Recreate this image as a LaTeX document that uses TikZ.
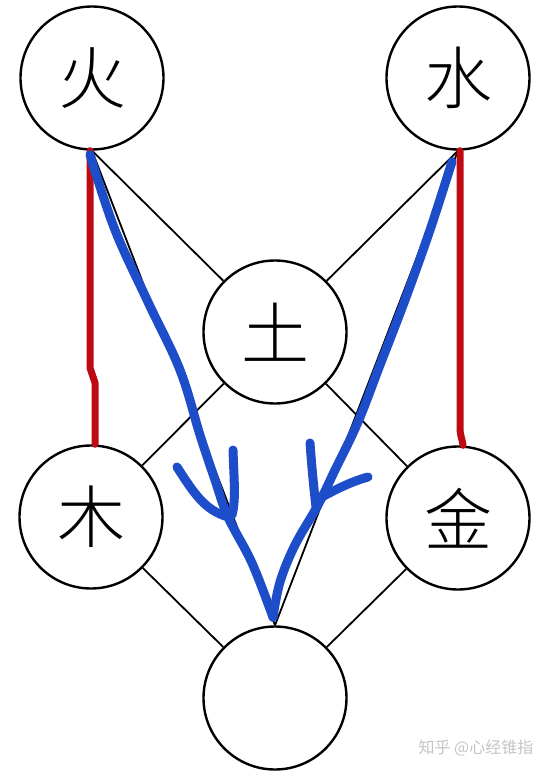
\documentclass[tikz,border=0pt]{standalone}
\usepackage{fontspec}
\IfFontExistsTF{Noto Sans CJK SC Light}
  {\newfontfamily\cjk{Noto Sans CJK SC Light}}
  {\newfontfamily\cjk{Noto Sans CJK SC}}
\newfontfamily\cjkmark{Noto Sans CJK SC}
\usepackage{xcolor}
\definecolor{penred}{HTML}{BE0A12}
\definecolor{penblue}{HTML}{1E4DC9}
\definecolor{markgray}{HTML}{C4C4C4}
\usepackage{tikz}
\usetikzlibrary{calc}

\tikzset{
  elem/.style={circle, draw, line width=2.4pt, minimum size=143pt, inner sep=0pt,
    fill=white, font=\cjk\fontsize{68}{68}\selectfont},
  link/.style={line width=1.8pt},
  redpen/.style={penred, line width=7pt, line cap=round, line join=round},
  bluepen/.style={penblue, line width=9pt, line cap=round, line join=round},
}

\begin{document}
\begin{tikzpicture}[x=1pt, y=-1pt]
        \useasboundingbox (0,0) rectangle (553,771);
        % Elements
        \node[elem] (huo)  at (92,78)   {火};
        \node[elem] (shui) at (458,78)  {水};
        \node[elem] (tu)   at (275,332) {土};
        \node[elem] (mu)   at (91,517)  {木};
        \node[elem] (jin)  at (458,518) {金};
        \node[elem] (kong) at (275,698) {};
        % Thin links
        \foreach \a in {huo, shui} {
          \draw[link] (\a.south) -- (tu);
          \draw[link] (\a.south) -- (kong.north);
        }
        \foreach \a/\b in {tu/mu, tu/jin, mu/kong, jin/kong}
          \draw[link] (\a) -- (\b);
        % Red strokes
        \draw[redpen] ([xshift=-2pt]huo.south) -- ++(0,217) -- ++(5,15)
          -- ([xshift=4pt]mu.north);
        \draw[redpen] ([xshift=2pt]shui.south) -- ++(0,276)
          .. controls +(0,10) and +(-1,-8) .. ([xshift=5pt]jin.north);
        % Blue arrow from fire
        \draw[bluepen] plot[smooth, tension=0.6] coordinates {([xshift=-2pt,yshift=-4pt]huo.south)
          (115,230) (148,302) (180,370) (200,435) (215,480) (228,517) (252,563)
          ([xshift=-2pt,yshift=8pt]kong.north)};
        \draw[bluepen] (177,467) .. controls (195,495) and (205,510) .. (228,517);
        \draw[bluepen] (233,450) .. controls (234,480) and (236,500) .. (232,515);
        % Blue arrow from water
        \draw[bluepen] plot[smooth, tension=0.6] coordinates {([xshift=-6pt,yshift=-11pt]shui.south)
          (430,230) (405,300) (380,365) (358,422) (335,470) (318,505) (295,545)
          (280,582) ([xshift=-2pt,yshift=8pt]kong.north)};
        \draw[bluepen] (310,443) .. controls (312,470) and (314,490) .. (316,507);
        \draw[bluepen] (368,477) .. controls (350,482) and (335,490) .. (320,498);
        % Watermark
        \node[font=\cjkmark\fontsize{16}{16}\selectfont, text=markgray] (mark)
          at (476,748) {知乎 @心经锥指};
      \end{tikzpicture}
\end{document}
